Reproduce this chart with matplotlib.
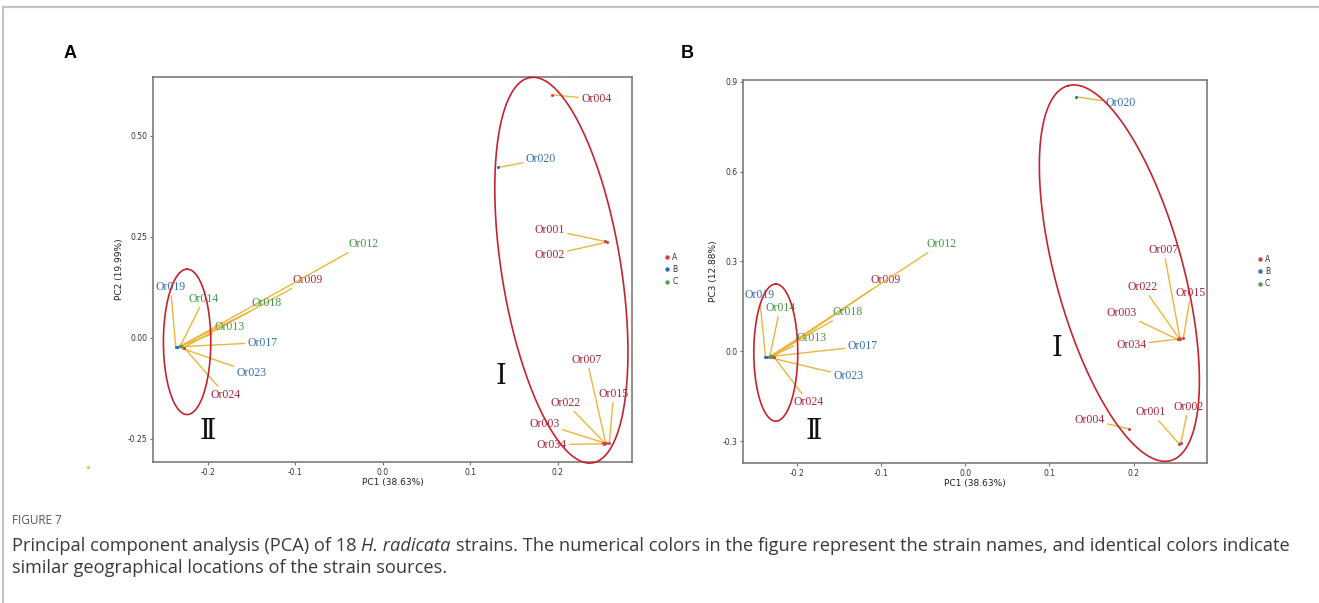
import matplotlib
matplotlib.use("Agg")
import matplotlib.pyplot as plt
import numpy as np
from matplotlib.lines import Line2D

# PCA scores of the 18 strains
strains = ["Or001", "Or002", "Or003", "Or004", "Or007", "Or009", "Or012", "Or013", "Or014",
           "Or015", "Or017", "Or018", "Or019", "Or020", "Or022", "Or023", "Or024", "Or034"]
groups = ["A", "A", "A", "A", "A", "A", "C", "C", "C",
          "A", "B", "C", "B", "B", "A", "B", "A", "A"]
pc1 = [0.254, 0.256, 0.252, 0.194, 0.255, -0.228, -0.231, -0.231, -0.232,
       0.259, -0.236, -0.232, -0.237, 0.132, 0.254, -0.235, -0.227, 0.253]
pc2 = [0.238, 0.236, -0.260, 0.601, -0.262, -0.025, -0.021, -0.021, -0.022,
       -0.262, -0.023, -0.021, -0.023, 0.421, -0.261, -0.023, -0.026, -0.263]
pc3 = [-0.309, -0.306, 0.040, -0.259, 0.042, -0.018, -0.017, -0.017, -0.018,
       0.046, -0.019, -0.017, -0.019, 0.850, 0.043, -0.019, -0.019, 0.041]

pc1_title = "PC1 (38.63%)"
pc2_title = "PC2 (19.99%)"
pc3_title = "PC3 (12.88%)"

# repelled label placement (data units) for each panel
label_pos_a = {
    "Or001": (0.191, 0.267), "Or002": (0.191, 0.204), "Or003": (0.185, -0.214),
    "Or004": (0.244, 0.590), "Or007": (0.2335, -0.055), "Or009": (-0.086, 0.143),
    "Or012": (-0.0217, 0.232), "Or013": (-0.175, 0.0265), "Or014": (-0.2046, 0.0965),
    "Or015": (0.264, -0.139), "Or017": (-0.1375, -0.0124), "Or018": (-0.133, 0.085),
    "Or019": (-0.243, 0.125), "Or020": (0.181, 0.441), "Or022": (0.209, -0.161),
    "Or023": (-0.150, -0.0866), "Or024": (-0.180, -0.142), "Or034": (0.193, -0.265),
}
label_pos_b = {
    "Or001": (0.2205, -0.203), "Or002": (0.265, -0.185), "Or003": (0.186, 0.128),
    "Or004": (0.1477, -0.228), "Or007": (0.2355, 0.339), "Or009": (-0.095, 0.237),
    "Or012": (-0.0285, 0.359), "Or013": (-0.182, 0.0447), "Or014": (-0.2197, 0.145),
    "Or015": (0.268, 0.195), "Or017": (-0.1215, 0.0167), "Or018": (-0.1393, 0.131),
    "Or019": (-0.2443, 0.189), "Or020": (0.184, 0.828), "Or022": (0.211, 0.215),
    "Or023": (-0.139, -0.083), "Or024": (-0.186, -0.170), "Or034": (0.197, 0.022),
}

# cluster outlines: centre plus two conjugate semi-axis vectors (data units)
outlines_a = [((0.2042, 0.1668), (-0.0357, 0.477), (0.0673, 0.0236)),
              ((-0.224, -0.0106), (0.0, 0.180), (0.0271, 0.0))]
outlines_b = [((0.183, 0.261), (-0.0609, 0.626), (0.0729, 0.056)),
              ((-0.2248, -0.0043), (0.0, 0.229), (0.0261, 0.0))]
numerals_a = [("Ⅰ", 0.135, -0.098), ("Ⅱ", -0.2003, -0.235)]
numerals_b = [("Ⅰ", 0.109, 0.006), ("Ⅱ", -0.1793, -0.272)]

caption_head = "FIGURE 7"
caption_1 = [("Principal component analysis (PCA) of 18", "normal"),
             ("H. radicata", "italic"),
             ("strains. The numerical colors in the figure represent the strain names, "
              "and identical colors indicate", "normal")]
caption_2 = [("similar geographical locations of the strain sources.", "normal")]

point_col = {"A": "#d2424d", "B": "#2f6fb0", "C": "#4aa54f"}
text_col = {"A": "#a8283c", "B": "#3570ad", "C": "#3f9a45"}
seg_col = "#ebb232"
ring_col = "#c4242f"

W, H = 1319, 603
fig = plt.figure(figsize=(W / 100, H / 100), dpi=100)
fig.patch.set_facecolor("white")


def panel(rect, ycol, ytitle, lab_pos, outlines, numerals, xlim, ylim, yticks, yfmt, leg_x):
    ax = fig.add_axes(rect)
    ax.set_xlim(*xlim)
    ax.set_ylim(*ylim)
    for s in ax.spines.values():
        s.set_color("#707070")
        s.set_linewidth(1.1)
    ax.tick_params(length=2.5, width=0.8, color="#707070", labelsize=5.5,
                   labelcolor="#333333", pad=1.5)
    xt = [-0.2, -0.1, 0.0, 0.1, 0.2]
    ax.set_xticks(xt)
    ax.set_xticklabels([f"{v:.1f}" for v in xt])
    ax.set_yticks(yticks)
    ax.set_yticklabels([yfmt.format(v) for v in yticks])
    ax.set_xlabel(pc1_title, fontsize=6.5, labelpad=1, color="#222222")
    ax.set_ylabel(ytitle, fontsize=6.5, labelpad=3, color="#222222")

    for name, g, x, y in zip(strains, groups, pc1, ycol):
        tx, ty = lab_pos[name]
        ax.annotate(name, xy=(x, y), xytext=(tx, ty), ha="center", va="center",
                    fontsize=8.5, family="Liberation Serif", color=text_col[g],
                    arrowprops=dict(arrowstyle="-", color=seg_col, lw=1.0,
                                    shrinkA=0, shrinkB=0, alpha=0.95),
                    zorder=3)
    for g in ["A", "B", "C"]:
        xs = [x for x, gg in zip(pc1, groups) if gg == g]
        ys = [y for y, gg in zip(ycol, groups) if gg == g]
        ax.scatter(xs, ys, s=5, color=point_col[g], zorder=4, linewidths=0)

    t = np.linspace(0, 2 * np.pi, 300)
    for c, u, v in outlines:
        ex = c[0] + u[0] * np.cos(t) + v[0] * np.sin(t)
        ey = c[1] + u[1] * np.cos(t) + v[1] * np.sin(t)
        ax.plot(ex, ey, color=ring_col, lw=1.2, clip_on=False, zorder=5)
    for s, x, y in numerals:
        ax.text(x, y, s, fontsize=20, ha="center", va="center",
                family=["Liberation Serif", "DejaVu Serif", "DejaVu Sans"], color="#111111")

    handles = [Line2D([], [], ls="", marker="o", ms=2.2, color=point_col[g], label=g)
               for g in ["A", "B", "C"]]
    leg = ax.legend(handles=handles, loc="center left", bbox_to_anchor=(leg_x, 0.5),
                    frameon=False, fontsize=5.5, handletextpad=0.3, handlelength=0.8,
                    labelspacing=0.45, borderaxespad=0)
    for txt in leg.get_texts():
        txt.set_color("#333333")
    return ax


axA = panel([153 / W, 1 - 462 / H, 479 / W, 385 / H], pc2, pc2_title, label_pos_a,
            outlines_a, numerals_a, (-0.263, 0.285), (-0.308, 0.645),
            [-0.25, 0.0, 0.25, 0.5], "{:.2f}", 1.06)
axB = panel([743 / W, 1 - 463 / H, 464 / W, 383 / H], pc3, pc3_title, label_pos_b,
            outlines_b, numerals_b, (-0.2637, 0.287), (-0.373, 0.906),
            [-0.3, 0.0, 0.3, 0.6, 0.9], "{:.1f}", 1.10)

# stray point left of panel A
axA.scatter([-0.337], [-0.32], s=6, color="#f0b43c", alpha=0.8, clip_on=False, linewidths=0)

# panel letters
fig.text(70 / W, 1 - 53 / H, "A", ha="center", va="center", fontsize=13,
         fontweight="bold", family="Liberation Sans")
fig.text(687 / W, 1 - 53 / H, "B", ha="center", va="center", fontsize=13,
         fontweight="bold", family="Liberation Sans")

# page frame
fig.add_artist(Line2D([3 / W, 1], [1 - 7 / H] * 2, transform=fig.transFigure,
                      color="#c4c4c4", lw=1.6))
fig.add_artist(Line2D([3 / W] * 2, [0, 1 - 7 / H], transform=fig.transFigure,
                      color="#c4c4c4", lw=1.6))

# caption
cap_family = ["Liberation Sans Narrow", "Open Sans"]
cap_col = "#3a3a3a"
fig.text(12 / W, 1 - 521 / H, caption_head, fontsize=8.5, family=cap_family,
         color="#555555", va="center")

renderer = fig.canvas.get_renderer()


def text_width(s, **kw):
    t = fig.text(0, 0, s, **kw)
    w = t.get_window_extent(renderer).width
    t.remove()
    return w


def runs_width(runs, **kw):
    space = text_width("x x", **kw) - text_width("xx", **kw)
    return sum(text_width(s, style=st, **kw) for s, st in runs) + space * (len(runs) - 1)


def put_runs(x_px, y_px, runs, **kw):
    space = text_width("x x", **kw) - text_width("xx", **kw)
    x = x_px
    for s, style in runs:
        t = fig.text(x / W, 1 - y_px / H, s, style=style, va="center", **kw)
        x = t.get_window_extent(renderer).x1 + space


# set the caption size so the first line runs the full text width
base = 11.0
w0 = runs_width(caption_1, fontsize=base, family=cap_family)
cap_size = base * 1281 / w0
cap_kw = dict(fontsize=cap_size, family=cap_family, color=cap_col)
put_runs(12, 546, caption_1, **cap_kw)
put_runs(12, 568, caption_2, **cap_kw)

fig.savefig("out.png", dpi=100, facecolor="white")
